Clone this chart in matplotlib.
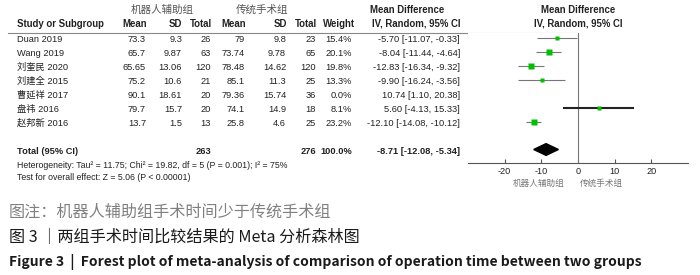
import numpy as np
import matplotlib.pyplot as plt
from matplotlib.patches import Polygon

plt.rcParams['font.family'] = ['Liberation Sans', 'Noto Sans CJK SC']
plt.rcParams['axes.unicode_minus'] = False

# data
studies = ["Duan 2019", "Wang 2019", "刘奎民 2020", "刘建全 2015",
           "曹延祥 2017", "盘祎 2016", "赵邦新 2016"]
rob_mean = [73.3, 65.7, 65.65, 75.2, 90.1, 79.7, 13.7]
rob_sd = [9.3, 9.87, 13.06, 10.6, 18.61, 15.7, 1.5]
rob_n = [26, 63, 120, 21, 20, 20, 13]
lap_mean = [79, 73.74, 78.48, 85.1, 79.36, 74.1, 25.8]
lap_sd = [9.8, 9.78, 14.62, 11.3, 15.74, 14.9, 4.6]
lap_n = [23, 65, 120, 25, 36, 18, 25]
weight = [15.4, 20.1, 19.8, 13.3, 0.0, 8.1, 23.2]
md = [-5.70, -8.04, -12.83, -9.90, 10.74, 5.60, -12.10]
ci_lo = [-11.07, -11.44, -16.34, -16.24, 1.10, -4.13, -14.08]
ci_hi = [-0.33, -4.64, -9.32, -3.56, 20.38, 15.33, -10.12]

total_md, total_lo, total_hi = -8.71, -12.08, -5.34
total_weight = 100.0
het_text = "Heterogeneity: Tau² = 11.75; Chi² = 19.82, df = 5 (P = 0.001); I² = 75%"
test_text = "Test for overall effect: Z = 5.06 (P < 0.00001)"
x_ticks = [-20, -10, 0, 10, 20]

fig = plt.figure(figsize=(7, 2.75), dpi=100)
fig.patch.set_facecolor('white')

# overlay axes in pixel units for the table
tab = fig.add_axes([0, 0, 1, 1])
tab.set_xlim(0, 700)
tab.set_ylim(275, 0)
tab.axis('off')

fs = 6.7
col = '#222222'
row0, step = 39, 14

def rtext(x, y, s, bold=False, size=fs):
    tab.text(x, y, s, ha='right', va='center', fontsize=size, color=col,
             fontweight='bold' if bold else 'normal')

# headers
tab.text(162, 10, "机器人辅助组", ha='center', va='center', fontsize=7.6, color='#555555')
tab.text(262, 10, "传统手术组", ha='center', va='center', fontsize=7.6, color='#555555')
tab.text(407, 10, "Mean Difference", ha='center', va='center', fontsize=6.9, fontweight='bold', color=col)
tab.text(578, 10, "Mean Difference", ha='center', va='center', fontsize=6.9, fontweight='bold', color=col)
tab.text(17, 24, "Study or Subgroup", ha='left', va='center', fontsize=6.9, fontweight='bold', color=col)
for x, s in zip([147, 182, 212, 246, 287, 317, 355],
                ["Mean", "SD", "Total", "Mean", "SD", "Total", "Weight"]):
    rtext(x, 24, s, bold=True, size=6.9)
rtext(460, 24, "IV, Random, 95% CI", bold=True, size=6.9)
tab.text(578, 24, "IV, Random, 95% CI", ha='center', va='center', fontsize=6.9, fontweight='bold', color=col)
tab.plot([8, 578], [32.5, 32.5], color='#888888', lw=0.8)

# study rows
for i, name in enumerate(studies):
    y = row0 + step * i
    tab.text(17, y, name, ha='left', va='center', fontsize=fs, color=col)
    rtext(146, y, f"{rob_mean[i]:g}")
    rtext(182, y, f"{rob_sd[i]:g}")
    rtext(211, y, f"{rob_n[i]}")
    rtext(245, y, f"{lap_mean[i]:g}")
    rtext(286, y, f"{lap_sd[i]:g}")
    rtext(316, y, f"{lap_n[i]}")
    rtext(352, y, f"{weight[i]:.1f}%")
    rtext(460, y, f"{md[i]:.2f} [{ci_lo[i]:.2f}, {ci_hi[i]:.2f}]")

# totals only count studies that carry weight
used = [w > 0 for w in weight]
ty = row0 + step * 8
tab.text(17, ty, "Total (95% CI)", ha='left', va='center', fontsize=fs, fontweight='bold', color=col)
rtext(211, ty, f"{sum(n for n, u in zip(rob_n, used) if u)}", bold=True)
rtext(316, ty, f"{sum(n for n, u in zip(lap_n, used) if u)}", bold=True)
rtext(352, ty, f"{total_weight:.1f}%", bold=True)
rtext(460, ty, f"{total_md:.2f} [{total_lo:.2f}, {total_hi:.2f}]", bold=True)
tab.text(17, 165, het_text, ha='left', va='center', fontsize=6.3, color=col)
tab.text(17, 178, test_text, ha='left', va='center', fontsize=6.3, color=col)

# forest panel
ax = fig.add_axes([468 / 700, (275 - 163) / 275, 220 / 700, 130 / 275])
ax.set_xlim(-30, 30)
ax.set_ylim((163 - 37.5) / step, (33 - 37.5) / step)
for sp in ['top', 'left', 'right']:
    ax.spines[sp].set_visible(False)
ax.spines['bottom'].set_color('#555555')
ax.spines['bottom'].set_linewidth(0.8)
ax.set_yticks([])
ax.set_xticks(x_ticks)
ax.tick_params(axis='x', direction='in', length=3, width=0.8, color='#555555',
               labelsize=6.6, labelcolor=col, pad=3)
ax.axvline(0, color='#777777', lw=0.8)

for i in range(len(studies)):
    if weight[i] == 0:
        continue
    crosses = ci_lo[i] < 0 < ci_hi[i]
    ax.plot([ci_lo[i], ci_hi[i]], [i, i], color='#222222' if crosses else '#777777',
            lw=1.5 if crosses else 0.8, solid_capstyle='butt')
    ax.plot(md[i], i, marker='s', color='#00c000', ms=0.9 * np.sqrt(weight[i]), mec='none')

ax.add_patch(Polygon([[total_lo, 8], [total_md, 8 - 0.42], [total_hi, 8], [total_md, 8 + 0.42]],
                     closed=True, color='black'))

tab.text(539, 183, "机器人辅助组", ha='center', va='center', fontsize=6.2, color='#777777')
tab.text(601, 183, "传统手术组", ha='center', va='center', fontsize=6.2, color='#777777')

# caption
tab.text(9, 212, "图注：机器人辅助组手术时间少于传统手术组", ha='left', va='center',
         fontsize=11.6, color='#808080', family=['Noto Sans CJK SC'])
tab.text(9, 237, "图 3 ｜两组手术时间比较结果的 Meta 分析森林图", ha='left', va='center',
         fontsize=11.6, color='#1a1a1a', family=['Noto Sans CJK SC'])
tab.text(9, 262, "Figure 3  |  Forest plot of meta-analysis of comparison of operation time between two groups",
         ha='left', va='center', fontsize=10.0, color='#1a1a1a', fontweight='bold',
         family=['Noto Sans CJK SC'])

fig.savefig('out.png', dpi=100)
